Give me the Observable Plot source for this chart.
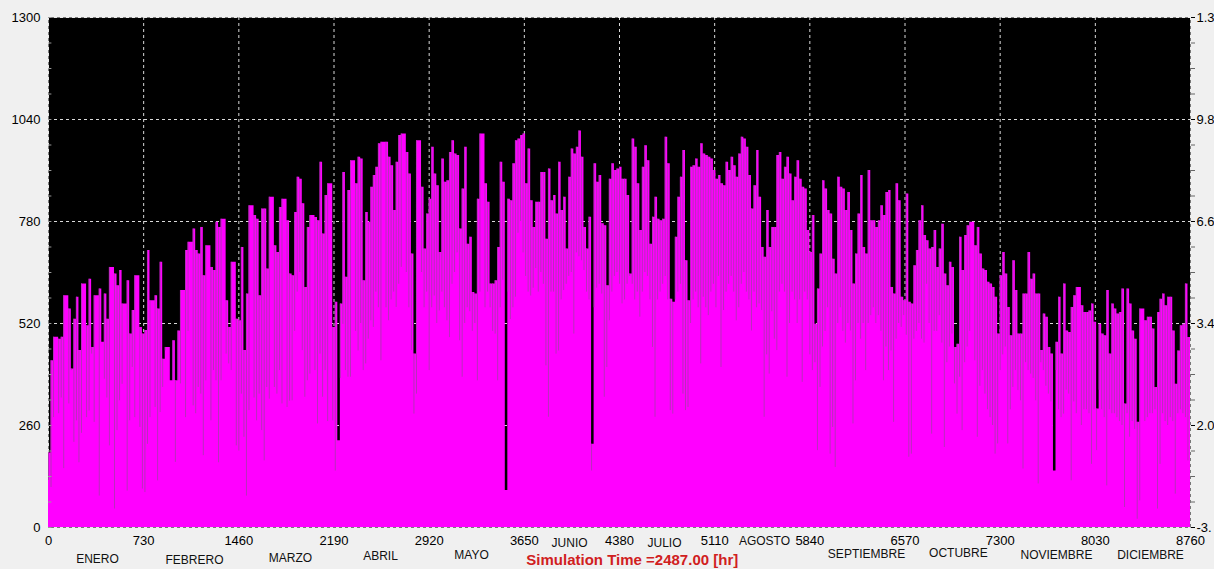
<!DOCTYPE html>
<html>
<head>
<meta charset="utf-8">
<script src="https://cdn.jsdelivr.net/npm/d3@7"></script>
<script src="https://cdn.jsdelivr.net/npm/@observablehq/plot@0.6"></script>
<style>
  html, body { margin: 0; padding: 0; background: #f0f0f0; overflow: hidden; }
</style>
</head>
<body>
<div id="chart"></div>
<script>
// ---- tick values and labels ----
const xTicks = [0, 730, 1460, 2190, 2920, 3650, 4380, 5110, 5840, 6570, 7300, 8030, 8760];
const yTicks = [0, 260, 520, 780, 1040, 1300];
const rightTickLabels = ["-3.", "2.0", "3.4", "6.6", "9.8", "1.3"];

// ---- month labels and their positions along the time axis (hours) ----
const months = ["ENERO", "FEBRERO", "MARZO", "ABRIL", "MAYO", "JUNIO", "JULIO", "AGOSTO", "SEPTIEMBRE", "OCTUBRE", "NOVIEMBRE", "DICIEMBRE"];
const monthHours = [376, 1120, 1856, 2547, 3245, 3997, 4725, 5492, 6275, 6980, 7732, 8453];
const simulationLabel = "Simulation Time =2487.00 [hr]";
const simulationHour = 4478;

// ---- series: daily peak level and depth of the night dip line ----
const peakLevel = [
  190,425,485,485,480,485,591,591,557,404,531,587,451,621,621,514,633,459,591,591,608,472,595,531,663,663,646,616,655,570,570,629,493,553,642,642,510,493,502,706,578,578,591,557,676,429,459,459,374,476,
  374,501,604,604,706,727,727,761,706,697,765,642,718,718,663,655,778,765,786,786,578,510,676,676,531,527,714,451,595,820,820,795,786,591,812,812,659,842,842,718,701,816,837,837,782,646,642,803,893,888,
  825,612,765,795,795,790,782,931,748,846,876,876,510,574,221,570,905,638,859,935,935,876,944,939,629,803,778,867,897,918,978,982,982,982,944,922,808,931,999,1003,1003,956,901,697,442,986,986,867,710,799,
  837,969,901,871,701,939,880,884,956,986,952,948,761,863,969,722,740,599,595,837,1003,1003,876,829,621,621,629,714,931,880,94,837,833,927,986,990,999,1003,876,965,833,765,829,829,905,905,735,914,833,846,
  799,931,808,842,710,893,965,952,969,1011,944,765,710,791,212,927,880,897,774,769,616,888,927,910,914,918,888,888,846,646,990,969,876,757,918,973,935,722,791,842,786,782,786,995,927,582,574,740,842,893,
  961,680,578,918,922,939,918,978,952,948,944,939,910,888,897,876,871,931,910,944,922,893,952,995,990,969,897,812,871,961,842,714,689,808,714,765,765,948,956,888,918,944,901,833,893,935,888,867,863,757,
  701,795,518,608,697,884,863,808,799,684,646,893,867,863,808,854,757,621,697,799,897,714,697,910,782,782,765,782,820,795,854,859,612,595,876,833,587,578,850,574,570,667,706,782,820,744,731,710,714,757,
  663,710,773,646,616,676,663,459,467,740,655,744,769,778,778,718,765,697,659,655,625,621,612,587,493,642,701,646,561,489,680,604,493,493,595,595,701,633,646,595,595,451,544,536,459,442,144,472,587,442,
  621,501,497,561,591,612,612,565,548,548,552,570,523,302,518,493,489,604,442,570,557,544,548,608,315,608,570,501,480,268,557,557,527,536,536,506,357,548,582,595,565,587,587,501,365,450,514,518,621,484
];
const dipLevel = [
  120,102,280,null,290,330,150,null,315,400,217,272,165,240,null,280,297,442,268,null,80,535,378,330,208,null,47,247,323,365,null,93,272,408,280,null,255,98,89,212,280,null,306,119,293,357,450,null,391,374,
  166,374,366,null,280,500,null,310,290,357,340,183,374,null,272,400,374,165,374,null,442,417,400,null,208,195,340,230,80,298,null,330,272,340,247,170,357,327,null,357,340,400,315,null,306,322,323,500,600,650,
  451,332,374,391,null,400,264,442,332,400,270,null,272,144,null,380,518,400,383,383,null,500,450,520,400,417,480,527,510,600,560,425,null,560,527,580,600,561,620,663,null,650,560,451,289,340,null,650,560,600,
  400,560,590,520,552,600,560,527,484,620,650,700,476,383,520,560,550,500,520,374,600,null,560,600,560,500,493,374,560,630,null,600,530,560,587,750,780,700,640,600,590,610,660,600,650,620,412,281,600,600,
  442,450,580,604,620,640,650,493,700,690,680,655,600,580,144,560,610,620,595,332,408,527,600,640,650,620,570,580,620,640,620,580,600,536,600,650,640,580,459,281,580,600,620,640,580,298,289,580,600,620,
  340,298,306,520,580,600,560,417,587,560,540,600,620,560,640,408,553,600,620,640,600,527,560,620,650,600,580,501,600,560,570,553,281,440,391,550,480,451,600,620,600,383,520,600,580,520,580,370,600,580,
  440,400,420,196,357,460,500,560,187,255,153,520,560,500,470,520,501,264,374,520,480,520,400,520,540,560,520,540,500,374,460,400,450,268,480,520,510,540,490,179,187,480,500,520,480,470,620,520,238,500,
  500,540,470,204,420,460,493,366,289,383,247,420,460,500,null,425,230,360,400,340,300,280,260,187,213,400,440,460,213,300,357,400,349,323,149,420,400,391,380,323,111,420,400,360,340,320,null,400,300,280,
  289,350,340,119,320,290,null,260,300,300,290,161,300,196,350,300,280,106,300,290,290,280,270,260,51,290,230,270,250,21,68,null,270,280,290,290,300,47,161,290,270,260,280,270,85,290,300,290,280,170
];

// ---- layout (not data) ----
const monthDy = [32, 33, 31, 29, 28, 16, 16, 14, 27, 26, 28, 28];

// ---- build tables ----
const totalHours = 8760;
const n = peakLevel.length;
const slot = totalHours / n;
const rows = peakLevel.map((v, i) => ({t: i * slot, v, d: dipLevel[i]}));
const areaRows = rows.concat([{t: totalHours, v: peakLevel[n - 1], d: null}]);
const lineRows = rows.filter(r => r.d != null && r.d < r.v);
const minorTicks = d3.range(0, 1301, 65);

const font = "'Liberation Sans', Arial, sans-serif";

const monthMarks = months.map((m, i) =>
  Plot.text([m], {
    x: () => monthHours[i],
    text: d => d,
    frameAnchor: "bottom",
    dy: monthDy[i],
    fontSize: 12,
    fill: "#111",
    textAnchor: "middle",
    lineAnchor: "middle"
  })
);

const chart = Plot.plot({
  width: 1214,
  height: 569,
  marginLeft: 48,
  marginRight: 24,
  marginTop: 17,
  marginBottom: 42,
  style: {background: "#f0f0f0", fontFamily: font, fontSize: "13px", color: "#000", overflow: "visible"},
  x: {domain: [0, totalHours], label: null},
  y: {domain: [0, 1300], label: null},
  marks: [
    Plot.frame({fill: "#000", stroke: null}),
    Plot.gridX(xTicks, {stroke: "#ffffff", strokeOpacity: 0.85, strokeDasharray: "3,3"}),
    Plot.gridY(yTicks, {stroke: "#ffffff", strokeOpacity: 0.85, strokeDasharray: "3,3"}),
    Plot.areaY(areaRows, {x: "t", y: "v", curve: "step-after", fill: "#ff00ff"}),
    Plot.ruleX(lineRows, {x: "t", y1: "d", y2: "v", stroke: "#a53aaa", strokeWidth: 0.8}),
    Plot.ruleY(minorTicks, {y: d => d, x1: 0, x2: 26, stroke: "#9a9a9a"}),
    Plot.axisX(xTicks, {tickSize: 0, tickPadding: 8, tickFormat: d => String(d), fontSize: 13}),
    Plot.axisY(yTicks, {anchor: "left", tickSize: 0, tickPadding: 8, tickFormat: d => String(d), fontSize: 13}),
    Plot.axisY(minorTicks, {anchor: "right", tickSize: 4, tickFormat: () => "", stroke: "#666"}),
    Plot.axisY(yTicks, {anchor: "right", tickSize: 4, tickPadding: 2, tickFormat: d => rightTickLabels[yTicks.indexOf(d)], fontSize: 13}),
    ...monthMarks,
    Plot.text([simulationLabel], {
      x: () => simulationHour,
      text: d => d,
      frameAnchor: "bottom",
      dy: 33,
      fill: "#d0201e",
      fontWeight: "bold",
      fontSize: 15,
      textAnchor: "middle",
      lineAnchor: "middle"
    })
  ]
});

document.getElementById("chart").appendChild(chart);
</script>
</body>
</html>
